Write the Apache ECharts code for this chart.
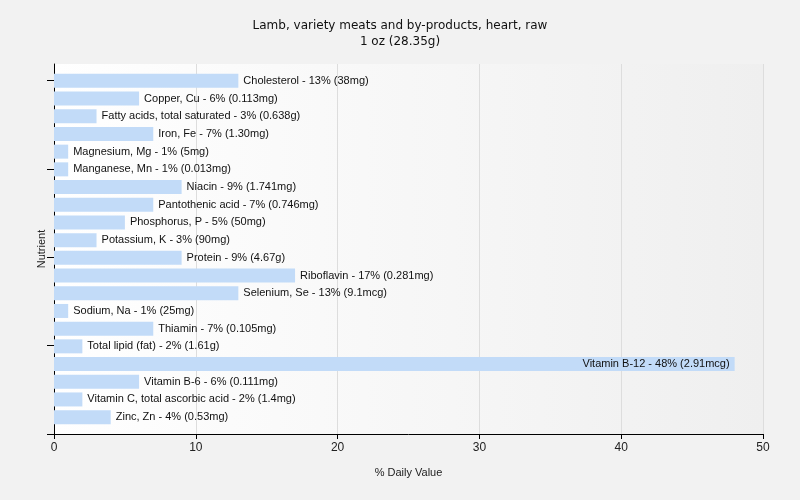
<!DOCTYPE html>
<html>
<head>
<meta charset="utf-8">
<script src="https://cdn.jsdelivr.net/npm/echarts@6/dist/echarts.min.js"></script>
<style>html,body{margin:0;padding:0;background:#f2f2f2;}#c{width:800px;height:500px;}</style>
</head>
<body>
<div id="c"></div>
<script>
var categories = ["Cholesterol","Copper, Cu","Fatty acids, total saturated","Iron, Fe","Magnesium, Mg","Manganese, Mn","Niacin","Pantothenic acid","Phosphorus, P","Potassium, K","Protein","Riboflavin","Selenium, Se","Sodium, Na","Thiamin","Total lipid (fat)","Vitamin B-12","Vitamin B-6","Vitamin C, total ascorbic acid","Zinc, Zn"];
var values = [13,6,3,7,1,1,9,7,5,3,9,17,13,1,7,2,48,6,2,4];
var amounts = ["38mg","0.113mg","0.638g","1.30mg","5mg","0.013mg","1.741mg","0.746mg","50mg","90mg","4.67g","0.281mg","9.1mcg","25mg","0.105mg","1.61g","2.91mcg","0.111mg","1.4mg","0.53mg"];
var xTicks = [0,10,20,30,40,50];

var FONT = "'Liberation Sans', Arial, sans-serif";
var data = values.map(function (v, i) {
  var d = {value: v, name: categories[i]};
  if (v > 40) d.label = {position: 'insideRight', distance: 5};
  return d;
});

var chart = echarts.init(document.getElementById('c'), null, {renderer: 'canvas'});
chart.setOption({
  backgroundColor: '#f2f2f2',
  animation: false,
  title: {
    text: 'Lamb, variety meats and by-products, heart, raw',
    subtext: '1 oz (28.35g)',
    left: 'center',
    top: 15,
    itemGap: 4,
    textStyle: {fontSize: 12, fontWeight: 'normal', color: '#111', fontFamily: "'DejaVu Sans', sans-serif"},
    subtextStyle: {fontSize: 12, color: '#111', fontFamily: "'DejaVu Sans', sans-serif"}
  },
  grid: [
    {left: 54, right: 37, top: 64, bottom: 66, show: true, borderWidth: 0,
     backgroundColor: new echarts.graphic.LinearGradient(0, 0, 1, 0, [{offset: 0, color: '#ffffff'}, {offset: 1, color: '#efefef'}])},
    {left: 54, right: 37, top: 72, bottom: 74}
  ],
  xAxis: [
    {gridIndex: 0, type: 'value', min: xTicks[0], max: xTicks[xTicks.length - 1], interval: 10,
     name: '% Daily Value', nameLocation: 'middle', nameGap: 33,
     nameTextStyle: {fontSize: 11, color: '#222', fontFamily: FONT},
     axisLine: {show: true, lineStyle: {color: '#000', width: 1}},
     axisTick: {show: true, length: 5, lineStyle: {color: '#000'}},
     axisLabel: {fontSize: 12, color: '#222', margin: 8, fontFamily: FONT},
     splitLine: {show: true, lineStyle: {color: '#dddddd', width: 1}}},
    {gridIndex: 1, type: 'value', min: xTicks[0], max: xTicks[xTicks.length - 1], show: false}
  ],
  yAxis: [
    {gridIndex: 0, type: 'value', min: 0, max: 370 / 88.4,
     name: 'Nutrient', nameLocation: 'middle', nameGap: 7, nameRotate: 90,
     nameTextStyle: {fontSize: 11, color: '#222', fontFamily: FONT},
     axisLine: {show: true, lineStyle: {color: '#000', width: 1}},
     axisTick: {show: true, length: 7, customValues: [0, 1, 2, 3, 4], lineStyle: {color: '#000'}},
     axisLabel: {show: false},
     splitLine: {show: false}},
    {gridIndex: 1, type: 'category', data: categories, inverse: true, show: false}
  ],
  series: [{
    type: 'bar',
    xAxisIndex: 1, yAxisIndex: 1,
    data: data,
    barWidth: 14,
    itemStyle: {color: '#c2dbf8'},
    label: {show: true, position: 'right', distance: 5, fontSize: 11, color: '#111', fontFamily: FONT,
      formatter: function (p) { return p.name + ' - ' + p.value + '% (' + amounts[p.dataIndex] + ')'; }}
  }]
});
</script>
</body>
</html>
